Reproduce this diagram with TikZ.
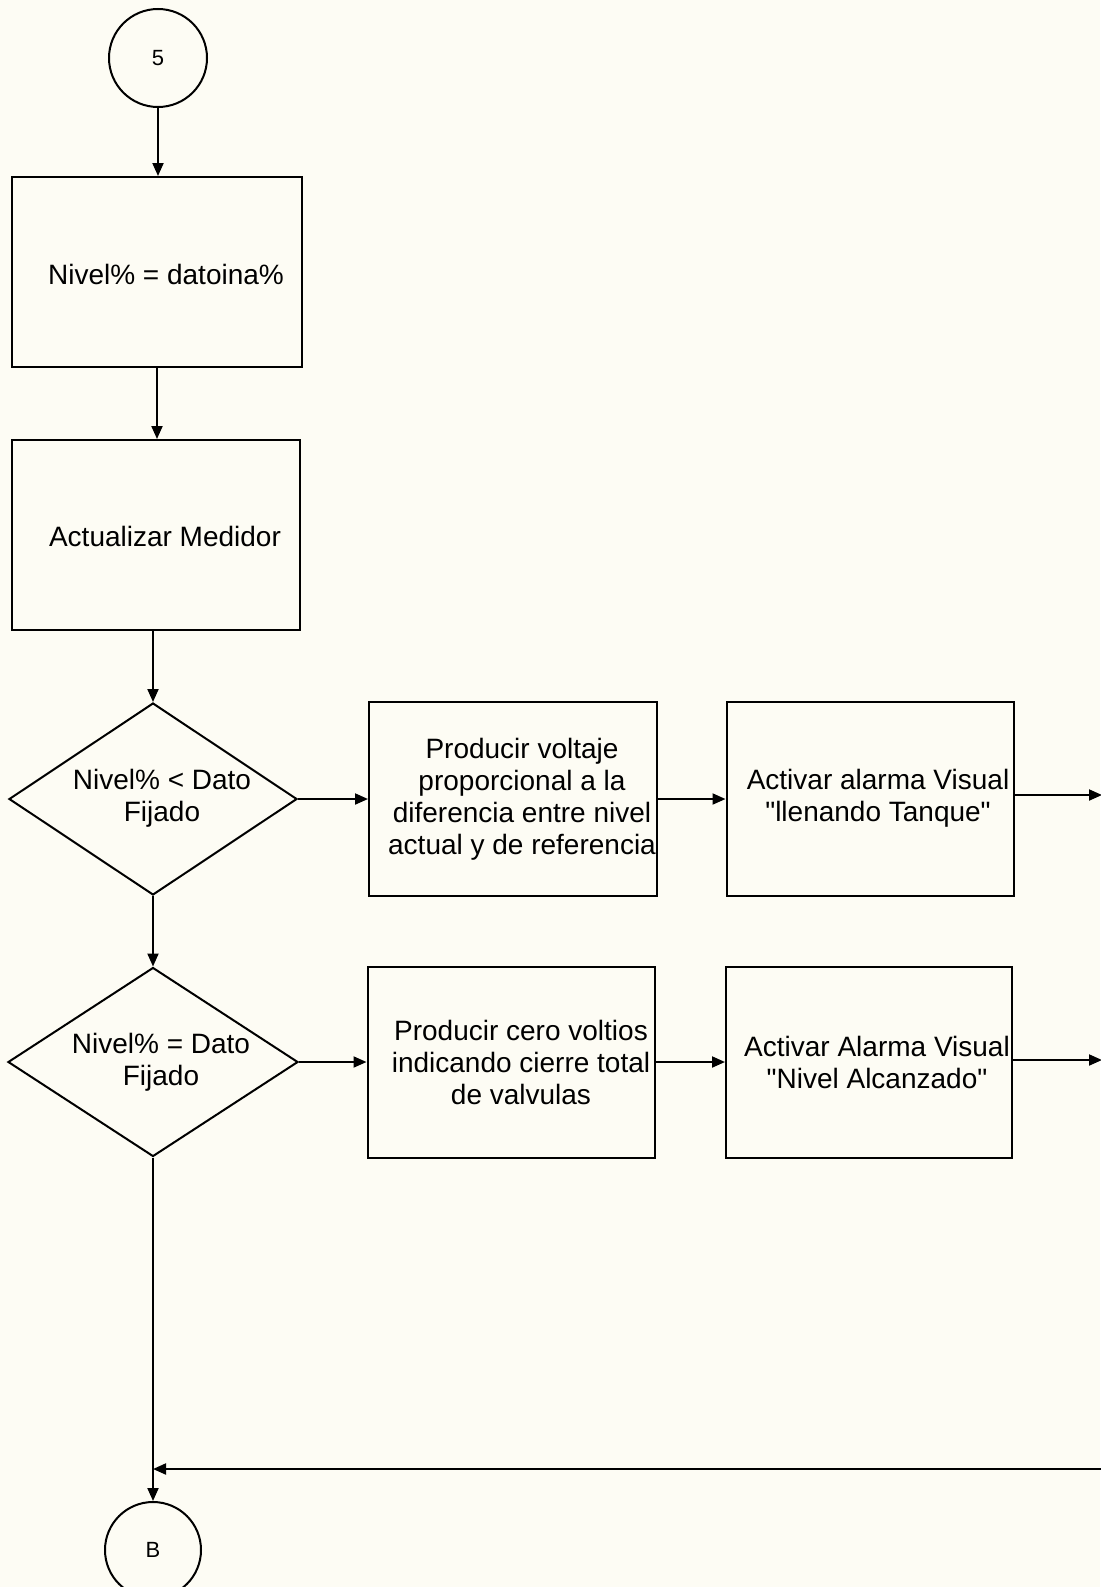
\documentclass[tikz,border=0pt]{standalone}
\usepackage{fontspec}
\setmainfont{Liberation Sans}[Ligatures=TeXOff]
\usetikzlibrary{shapes.geometric,arrows.meta,calc}
\definecolor{paper}{RGB}{253,252,244}
\begin{document}
\begin{tikzpicture}[x=1pt,y=-1pt,
  procbox/.style={draw,line width=2pt,inner sep=0pt,rectangle},
  decision/.style={draw,line width=2pt,inner sep=0pt,diamond},
  connector/.style={draw,line width=2pt,inner sep=0pt,circle,
                    font=\fontsize{22}{26}\selectfont},
  lbl/.style={align=center,inner sep=0pt,font=\fontsize{28}{32}\selectfont},
  flow/.style={line width=2pt,-{Triangle[length=13pt,width=11pt]}}]

% page
\fill[paper] (0,0) rectangle (1100,1587);
\useasboundingbox (0,0) rectangle (1100,1587);

% connectors (off-page references)
\node[connector,minimum size=98pt] (c5) at (158,58) {5};
\node[connector,minimum size=96pt] (cB) at (153,1550) {B};

% process boxes
\node[procbox,minimum width=290pt,minimum height=190pt] (b1) at (157,272) {};
\node[procbox,minimum width=288pt,minimum height=190pt] (b2) at (156,535) {};
\node[procbox,minimum width=288pt,minimum height=194pt] (b3) at (513,799) {};
\node[procbox,minimum width=287pt,minimum height=194pt] (b4) at (870,799) {};
\node[procbox,minimum width=287pt,minimum height=191pt] (b5) at (511,1062) {};
\node[procbox,minimum width=286pt,minimum height=191pt] (b6) at (869,1062) {};

% decisions
\node[decision,minimum width=288pt,minimum height=192pt] (d1) at (153,799) {};
\node[decision,minimum width=290pt,minimum height=189pt] (d2) at (153,1062) {};

% texts
\node[lbl] (t1) at (166,274) {Nivel\% = datoina\%};
\node[lbl] (t2) at (165,536) {Actualizar Medidor};
\node[lbl] (t3) at (162,798) {Nivel\% < Dato\\Fijado};
\node[lbl] (t4) at (522,799) {Producir voltaje\\proporcional a la\\diferencia entre nivel\\actual y de referencia};
\node[lbl] (t5) at (878,798) {Activar alarma Visual\\"llenando Tanque"};
\node[lbl] (t6) at (161,1062) {Nivel\% = Dato\\Fijado};
\node[lbl] (t7) at (521,1062) {Producir cero voltios\\indicando cierre total\\de valvulas};
\node[lbl] (t8) at (877,1062) {Activar Alarma Visual\\"Nivel Alcanzado"};

% free ends at the right margin
\coordinate (e1) at (1102,795);
\coordinate (e2) at (1102,1060);
\coordinate (r1) at (1102,1469);
\coordinate (j) at (d2.south |- r1);

% main column
\draw[flow] (c5.south) -- (c5.south |- b1.north);
\draw[flow] (b1.south) -- (b1.south |- b2.north);
\draw[flow] (b2.south -| d1.north) -- (d1.north);
\draw[flow] (d1.south) -- (d2.north);
\draw[line width=2pt] (d2.south) -- (j);
\draw[flow] (j) -- (cB.north);

% branch rows
\draw[flow] (d1.east) -- (b3.west);
\draw[flow] (b3.east) -- (b4.west);
\draw[flow] (b4.east |- e1) -- (e1);
\draw[flow] (d2.east) -- (b5.west);
\draw[flow] (b5.east) -- (b6.west);
\draw[flow] (b6.east |- e2) -- (e2);

% return line
\draw[flow] (r1) -- (j);
\end{tikzpicture}
\end{document}
